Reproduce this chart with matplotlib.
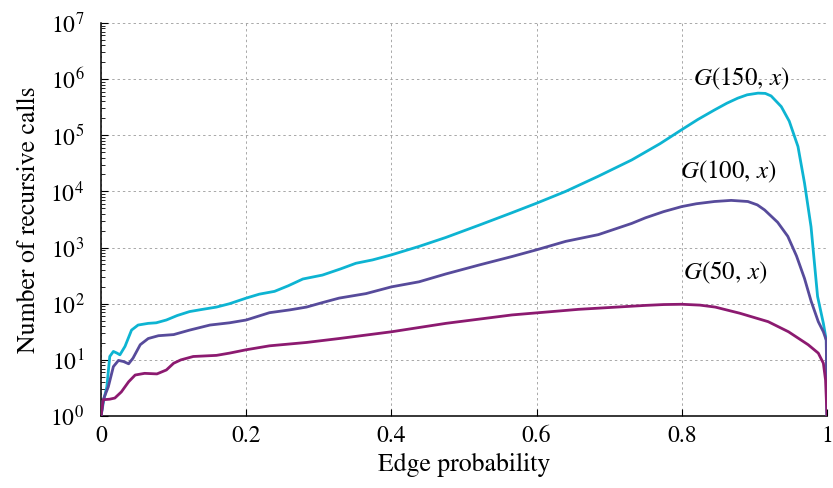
import numpy as np
import matplotlib
matplotlib.use("Agg")
import matplotlib.pyplot as plt
from matplotlib.ticker import LogLocator, FixedLocator, FuncFormatter, NullFormatter

# ---- data (y values given as log10 of number of recursive calls) ----
g150_x = [0, 0.004, 0.008, 0.012, 0.017, 0.022, 0.026, 0.033, 0.042, 0.051, 0.065, 0.076, 0.09,
          0.105, 0.122, 0.14, 0.159, 0.177, 0.2, 0.218, 0.239, 0.258, 0.278, 0.305, 0.33, 0.351,
          0.374, 0.4, 0.438, 0.475, 0.521, 0.566, 0.6, 0.64, 0.685, 0.731, 0.77, 0.8, 0.822, 0.845,
          0.862, 0.877, 0.89, 0.905, 0.915, 0.923, 0.937, 0.948, 0.96, 0.969, 0.978, 0.987, 0.995,
          0.999, 1.0]
g150_log = [0, 0.3, 0.52, 1.06, 1.15, 1.12, 1.09, 1.24, 1.53, 1.62, 1.65, 1.66, 1.71,
            1.79, 1.86, 1.90, 1.94, 2.00, 2.10, 2.17, 2.22, 2.32, 2.44, 2.51, 2.62, 2.72,
            2.78, 2.87, 3.02, 3.18, 3.40, 3.62, 3.79, 4.00, 4.27, 4.56, 4.85, 5.10, 5.28, 5.45,
            5.57, 5.66, 5.72, 5.75, 5.745, 5.70, 5.51, 5.25, 4.80, 4.15, 3.37, 2.13, 1.65,
            1.35, 0]

g100_x = [0, 0.003, 0.01, 0.017, 0.024, 0.031, 0.038, 0.044, 0.054, 0.065, 0.079, 0.1, 0.122,
          0.15, 0.177, 0.2, 0.232, 0.26, 0.283, 0.305, 0.328, 0.365, 0.4, 0.438, 0.475, 0.521,
          0.566, 0.6, 0.64, 0.685, 0.731, 0.75, 0.775, 0.8, 0.82, 0.845, 0.868, 0.891, 0.904,
          0.914, 0.932, 0.946, 0.958, 0.969, 0.978, 0.988, 0.995, 0.999, 1.0]
g100_log = [0, 0.29, 0.52, 0.88, 0.99, 0.97, 0.93, 1.03, 1.27, 1.38, 1.43, 1.45, 1.53,
            1.62, 1.66, 1.71, 1.84, 1.89, 1.94, 2.02, 2.10, 2.18, 2.30, 2.39, 2.53, 2.69,
            2.84, 2.96, 3.11, 3.23, 3.43, 3.53, 3.64, 3.73, 3.78, 3.82, 3.84, 3.82, 3.76,
            3.67, 3.45, 3.20, 2.85, 2.45, 2.05, 1.68, 1.50, 1.35, 0]

g50_x = [0, 0.003, 0.012, 0.019, 0.028, 0.038, 0.047, 0.06, 0.077, 0.09, 0.1, 0.11, 0.127, 0.159,
         0.177, 0.2, 0.232, 0.283, 0.328, 0.4, 0.475, 0.566, 0.658, 0.75, 0.775, 0.8, 0.825,
         0.846, 0.88, 0.919, 0.947, 0.974, 0.988, 0.995, 0.998, 1.0]
g50_log = [0, 0.29, 0.30, 0.32, 0.43, 0.61, 0.73, 0.76, 0.75, 0.82, 0.94, 1.0, 1.06, 1.08,
           1.12, 1.18, 1.25, 1.31, 1.38, 1.50, 1.65, 1.80, 1.90, 1.97, 1.985, 1.99, 1.975,
           1.94, 1.83, 1.68, 1.50, 1.27, 1.12, 0.94, 0.64, 0]

labels = [r"$G(150,\,x)$", r"$G(100,\,x)$", r"$G(50,\,x)$"]
label_x = [0.882, 0.864, 0.86]
label_log = [6.0, 4.35, 2.55]

x_ticks = [0, 0.2, 0.4, 0.6, 0.8, 1]
x_ticklabels = ["0", "0.2", "0.4", "0.6", "0.8", "1"]
y_exponents = [0, 1, 2, 3, 4, 5, 6, 7]

colors = ["#0db4d2", "#574b9b", "#8c1a70"]

# ---- styling ----
plt.rcParams['font.family'] = ['STIXGeneral', 'DejaVu Serif']
plt.rcParams['mathtext.fontset'] = 'stix'

fig = plt.figure(figsize=(8.33, 4.88), dpi=100)
ax = fig.add_axes([0.1213, 0.1475, 0.8715, 0.8055])

series = [(g150_x, g150_log), (g100_x, g100_log), (g50_x, g50_log)]
for (xs, ls), c in zip(series, colors):
    ax.plot(xs, 10.0 ** np.array(ls), color=c, lw=2.0, solid_joinstyle='round',
            solid_capstyle='round', zorder=3)

for t, lx, ll in zip(labels, label_x, label_log):
    ax.text(lx, 10.0 ** ll, t, fontsize=18, ha='center', va='center', zorder=4)

ax.set_yscale('log')
ax.set_xlim(0, 1)
ax.set_ylim(10.0 ** y_exponents[0], 10.0 ** y_exponents[-1])

ax.xaxis.set_major_locator(FixedLocator(x_ticks))
ax.set_xticklabels(x_ticklabels)
ax.yaxis.set_major_locator(FixedLocator([10.0 ** e for e in y_exponents]))
ax.yaxis.set_major_formatter(FuncFormatter(lambda v, p: r"$10^{%d}$" % round(np.log10(v))))
ax.yaxis.set_minor_locator(LogLocator(base=10, subs=np.arange(2, 10), numticks=20))
ax.yaxis.set_minor_formatter(NullFormatter())

ax.spines['top'].set_visible(False)
ax.spines['right'].set_visible(False)
ax.spines['left'].set_linewidth(1.1)
ax.spines['bottom'].set_linewidth(1.1)

ax.tick_params(axis='x', which='major', direction='in', length=5, width=0.8,
               labelsize=17, pad=7, top=False)
ax.tick_params(axis='y', which='major', direction='in', length=5, width=0.8,
               labelsize=17, pad=12, right=False)
ax.tick_params(axis='y', which='minor', direction='in', length=3, width=0.6, right=False)
ax.tick_params(axis='x', which='minor', bottom=False, top=False)

ax.grid(True, which='major', axis='both', color='#a8a8a8', linestyle=(0, (2.5, 3)), lw=0.7)
ax.set_axisbelow(True)

ax.set_xlabel("Edge probability", fontsize=18.5, labelpad=4)
ax.set_ylabel("Number of recursive calls", fontsize=18.5, labelpad=7)

fig.savefig("out.png", dpi=100)
